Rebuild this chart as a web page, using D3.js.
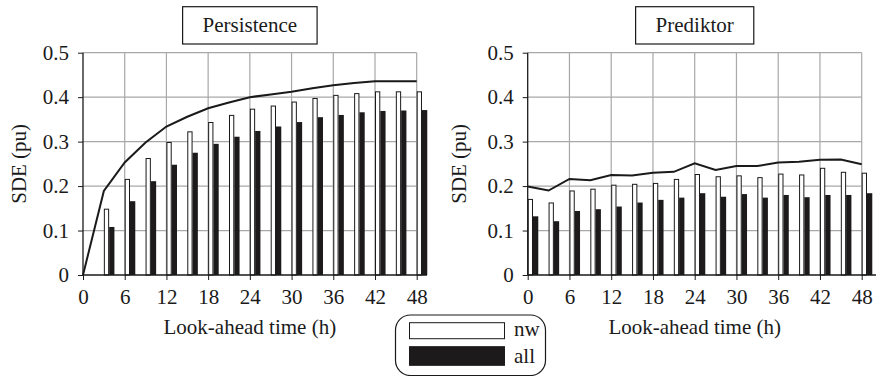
<!DOCTYPE html>
<html>
<head>
<meta charset="utf-8">
<script src="https://cdn.jsdelivr.net/npm/d3@7"></script>
<style>
  html, body { margin: 0; padding: 0; background: #fff; }
  svg { display: block; }
  text { font-family: "Liberation Serif", "Times New Roman", serif; fill: #1a1a1a; }
</style>
</head>
<body>
<svg id="chart" width="876" height="376"></svg>
<script>
// ---- data ----
const hours = [0, 3, 6, 9, 12, 15, 18, 21, 24, 27, 30, 33, 36, 39, 42, 45, 48];

const persistNw   = [0, 0.148, 0.215, 0.262, 0.298, 0.322, 0.343, 0.359, 0.373, 0.380, 0.389, 0.397, 0.404, 0.408, 0.412, 0.412, 0.412];
const persistAll  = [0, 0.108, 0.166, 0.211, 0.248, 0.275, 0.295, 0.311, 0.324, 0.334, 0.344, 0.355, 0.360, 0.366, 0.369, 0.370, 0.371];
const persistLine = [0, 0.189, 0.253, 0.298, 0.334, 0.356, 0.375, 0.388, 0.400, 0.406, 0.412, 0.420, 0.427, 0.432, 0.436, 0.436, 0.436];

const predNw   = [0.170, 0.162, 0.189, 0.193, 0.202, 0.204, 0.206, 0.215, 0.226, 0.221, 0.223, 0.219, 0.227, 0.225, 0.240, 0.231, 0.229];
const predAll  = [0.132, 0.121, 0.144, 0.148, 0.154, 0.163, 0.169, 0.174, 0.184, 0.176, 0.182, 0.174, 0.180, 0.175, 0.180, 0.180, 0.184];
const predLine = [0.199, 0.190, 0.216, 0.213, 0.225, 0.224, 0.230, 0.232, 0.251, 0.236, 0.245, 0.245, 0.253, 0.255, 0.259, 0.260, 0.249];

const xTicks = [0, 6, 12, 18, 24, 30, 36, 42, 48];
const yTicks = [0, 0.1, 0.2, 0.3, 0.4, 0.5];
const yTickLabels = ["0", "0.1", "0.2", "0.3", "0.4", "0.5"];

const panelTitles = ["Persistence", "Prediktor"];
const xTitle = "Look-ahead time (h)";
const yTitle = "SDE (pu)";
const legendLabels = ["nw", "all"];

// ---- layout ----
const svg = d3.select("#chart");
const FONT = 21;
const plotTop = 52.7, plotBottom = 275;
const barHours = 0.76;

const panels = [
  { title: panelTitles[0], nw: persistNw, all: persistAll, line: persistLine,
    x0: 83, x1: 416.7, axisEnd: 427, yLabelX: 25.5 },
  { title: panelTitles[1], nw: predNw, all: predAll, line: predLine,
    x0: 527.7, x1: 861.7, axisEnd: 876, yLabelX: 465.5 }
];

const y = d3.scaleLinear().domain([0, 0.5]).range([plotBottom, plotTop]);

panels.forEach(p => {
  const x = d3.scaleLinear().domain([0, 48]).range([p.x0, p.x1]);
  const g = svg.append("g");
  const bw = x(barHours) - x(0);

  // grid
  g.append("g").selectAll("line").data(yTicks.filter(d => d > 0)).join("line")
    .attr("x1", p.x0).attr("x2", p.x1)
    .attr("y1", d => y(d)).attr("y2", d => y(d))
    .attr("stroke", "#a8a8a8").attr("stroke-width", 1.2);
  g.append("g").selectAll("line").data(xTicks.filter(d => d > 0)).join("line")
    .attr("x1", d => x(d)).attr("x2", d => x(d))
    .attr("y1", plotTop).attr("y2", plotBottom)
    .attr("stroke", "#a8a8a8").attr("stroke-width", 1.2);

  // bars
  const idx = hours.map((h, i) => i).filter(i => p.nw[i] > 0 || p.all[i] > 0);
  g.append("g").selectAll("rect").data(idx).join("rect")
    .attr("x", i => x(hours[i]) + 0.5)
    .attr("y", i => y(p.nw[i]))
    .attr("width", bw - 1)
    .attr("height", i => y(0) - y(p.nw[i]))
    .attr("fill", "#fff").attr("stroke", "#1a1a1a").attr("stroke-width", 1);
  g.append("g").selectAll("rect").data(idx).join("rect")
    .attr("x", i => x(hours[i]) + bw)
    .attr("y", i => y(p.all[i]))
    .attr("width", bw)
    .attr("height", i => y(0) - y(p.all[i]))
    .attr("fill", "#1c1a1a");

  // line
  const line = d3.line().x((d, i) => x(hours[i])).y(d => y(d));
  g.append("path").datum(p.line).attr("d", line)
    .attr("fill", "none").attr("stroke", "#1a1a1a").attr("stroke-width", 2);

  // axes
  const ya = d3.axisLeft(y).tickValues(yTicks).tickSize(5).tickSizeOuter(0).tickPadding(9)
    .tickFormat((d, i) => yTickLabels[i]);
  const yg = g.append("g").attr("transform", `translate(${p.x0},0)`).call(ya);
  yg.select(".domain").remove();
  yg.selectAll("text").style("font-size", FONT + "px").attr("fill", "#1a1a1a")
    .style("font-family", "Liberation Serif");
  yg.selectAll("line").attr("stroke", "#1a1a1a");

  const xa = d3.axisBottom(x).tickValues(xTicks).tickSize(5).tickSizeOuter(0).tickPadding(9);
  const xg = g.append("g").attr("transform", `translate(0,${plotBottom})`).call(xa);
  xg.select(".domain").remove();
  xg.selectAll("text").style("font-size", FONT + "px").attr("fill", "#1a1a1a")
    .style("font-family", "Liberation Serif");
  xg.selectAll("line").attr("stroke", "#1a1a1a");

  g.append("line").attr("x1", p.x0).attr("x2", p.x0).attr("y1", plotTop).attr("y2", plotBottom)
    .attr("stroke", "#1a1a1a").attr("stroke-width", 1.3);
  g.append("line").attr("x1", p.x0).attr("x2", p.axisEnd).attr("y1", plotBottom).attr("y2", plotBottom)
    .attr("stroke", "#1a1a1a").attr("stroke-width", 1.3);

  // titles
  const cx = (p.x0 + p.x1) / 2;
  const box = g.append("rect");
  const tt = g.append("text").attr("x", cx).attr("y", 31.7).attr("text-anchor", "middle")
    .style("font-size", FONT + "px").text(p.title);
  const tw = tt.node().getComputedTextLength();
  box.attr("x", cx - tw / 2 - 20).attr("y", 6.7).attr("width", tw + 40).attr("height", 37.3)
    .attr("fill", "#fff").attr("stroke", "#1a1a1a").attr("stroke-width", 1.2);

  g.append("text").attr("x", cx).attr("y", 333.5).attr("text-anchor", "middle")
    .style("font-size", FONT + "px").text(xTitle);
  g.append("text").attr("transform", `translate(${p.yLabelX},${(plotTop + plotBottom) / 2}) rotate(-90)`)
    .attr("text-anchor", "middle").style("font-size", FONT + "px").text(yTitle);
});

// legend
const lg = svg.append("g");
lg.append("rect").attr("x", 395.5).attr("y", 315).attr("width", 150).attr("height", 60.5)
  .attr("rx", 15).attr("ry", 15)
  .attr("fill", "#fff").attr("stroke", "#1a1a1a").attr("stroke-width", 1.2);
const legendFills = ["#fff", "#1c1a1a"];
const legendY = [322.7, 346.7];
const legendH = [16, 18.6];
legendLabels.forEach((lab, i) => {
  lg.append("rect").attr("x", 409.5).attr("y", legendY[i]).attr("width", 95).attr("height", legendH[i])
    .attr("fill", legendFills[i]).attr("stroke", "#1a1a1a").attr("stroke-width", 1);
  lg.append("text").attr("x", 514).attr("y", legendY[i] + legendH[i] - 2.5)
    .style("font-size", FONT + "px").text(lab);
});
</script>
</body>
</html>
